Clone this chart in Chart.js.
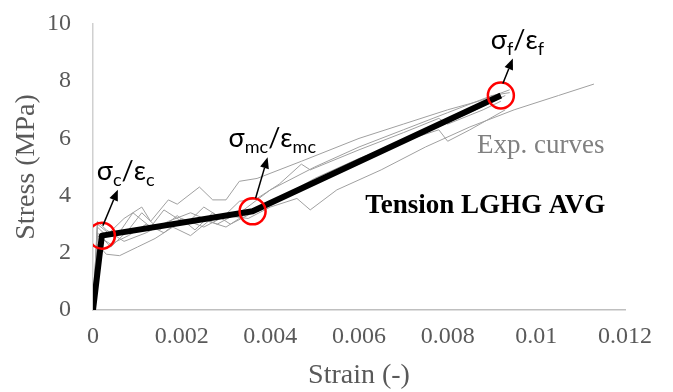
<!DOCTYPE html>
<html>
<head>
<meta charset="utf-8">
<script src="https://cdn.jsdelivr.net/npm/chart.js@4"></script>
<style>
  html, body { margin: 0; padding: 0; background: #fff; }
  #wrap { width: 673px; height: 392px; }
</style>
</head>
<body>
<div id="wrap"><canvas id="stressChart" width="673" height="392"></canvas></div>
<script>
// experimental curves (strain, stress in MPa)
const exp1Strain = [0, 0.0001, 0.0003, 0.0007, 0.0011, 0.0013, 0.0017, 0.0019, 0.0024, 0.0027, 0.0030, 0.0033, 0.0037, 0.0047, 0.0060, 0.0070, 0.0080, 0.0087, 0.0094];
const exp1Stress = [0, 2.9, 2.6, 3.2, 3.6, 3.1, 3.85, 3.7, 4.3, 3.85, 3.85, 4.5, 4.6, 5.2, 6.0, 6.5, 7.0, 7.3, 7.7];
const exp2Strain = [0, 0.0001, 0.0003, 0.0006, 0.0010, 0.0014, 0.0018, 0.0022, 0.0026, 0.0030, 0.0034, 0.0038, 0.0045, 0.0055, 0.0065, 0.0075, 0.0085, 0.0093];
const exp2Stress = [0, 2.3, 1.95, 1.9, 2.2, 2.5, 2.9, 2.6, 3.1, 2.9, 3.3, 3.5, 4.1, 4.8, 5.5, 6.2, 6.9, 7.5];
const exp3Strain = [0, 0.0001, 0.0004, 0.0008, 0.0012, 0.0016, 0.0020, 0.0025, 0.0030, 0.0035, 0.0040, 0.0046, 0.0049, 0.0055, 0.0065, 0.0075, 0.0085, 0.0095, 0.0105, 0.0113];
const exp3Stress = [0, 2.6, 2.3, 2.6, 3.0, 2.7, 3.2, 2.9, 3.3, 3.2, 3.6, 3.9, 3.5, 4.2, 4.9, 5.7, 6.4, 7.0, 7.5, 7.9];
const exp4Strain = [0, 0.0001, 0.0005, 0.0009, 0.0013, 0.0016, 0.0021, 0.0025, 0.0029, 0.0033, 0.0037, 0.0042, 0.0047, 0.0049, 0.0060, 0.0070, 0.0078, 0.0080, 0.0088, 0.0092];
const exp4Stress = [0, 3.0, 2.5, 3.4, 2.9, 3.5, 3.0, 3.6, 3.2, 3.8, 3.9, 4.4, 5.1, 4.9, 5.6, 6.2, 6.7, 6.5, 7.0, 7.3];
const exp5Strain = [0, 0.0001, 0.0004, 0.0008, 0.0011, 0.0015, 0.0019, 0.0023, 0.0027, 0.0031, 0.0036, 0.0042, 0.0050, 0.0060, 0.0070, 0.0078, 0.0080, 0.0085, 0.0093];
const exp5Stress = [0, 2.7, 2.2, 2.8, 3.4, 2.8, 3.3, 2.8, 3.4, 3.0, 3.4, 3.9, 4.6, 5.3, 5.9, 6.3, 5.9, 6.3, 7.0];
const exp6Strain = [0, 0.0001, 0.0003, 0.0007, 0.0012, 0.0017, 0.0022, 0.0028, 0.0034, 0.0040, 0.0050, 0.0060, 0.0070, 0.0080, 0.0090, 0.0094];
const exp6Stress = [0, 3.1, 2.8, 2.4, 2.7, 3.1, 3.4, 3.0, 3.5, 4.2, 5.0, 5.7, 6.3, 6.9, 7.5, 7.6];

// trilinear average
const avgStrain = [0, 0.0002, 0.0036, 0.0092];
const avgStress = [0, 2.6, 3.45, 7.5];

// marked points on the average curve (index into avg arrays) and their subscripts
const keyIndex = [1, 2, 3];
const keySub = ['c', 'mc', 'f'];

const strainTicks = ['0', '0.002', '0.004', '0.006', '0.008', '0.01', '0.012'];
const stressTicks = ['0', '2', '4', '6', '8', '10'];

const pts = (xs, ys) => xs.map((x, i) => ({ x: x, y: ys[i] }));

const expCurves = [
    [exp1Strain, exp1Stress], [exp2Strain, exp2Stress], [exp3Strain, exp3Stress],
    [exp4Strain, exp4Stress], [exp5Strain, exp5Stress], [exp6Strain, exp6Stress]
];

const datasets = [];
// red circles on top
datasets.push({
    data: keyIndex.map(i => ({ x: avgStrain[i], y: avgStress[i] })),
    showLine: false,
    pointRadius: 13,
    pointBorderWidth: 2.5,
    pointBorderColor: '#ff0000',
    pointBackgroundColor: 'rgba(0,0,0,0)'
});
datasets.push({
    data: pts(avgStrain, avgStress),
    showLine: true,
    borderColor: '#000',
    borderWidth: 6,
    pointRadius: 0,
    borderJoinStyle: 'round'
});
expCurves.forEach(c => {
    datasets.push({
        data: pts(c[0], c[1]),
        showLine: true,
        borderColor: '#a0a0a0',
        borderWidth: 1,
        pointRadius: 0
    });
});

// arrows + labels next to the marked points (pixel offsets from the point)
const keyLabels = {
    id: 'keyLabels',
    afterDatasetsDraw(chart) {
        const { ctx, scales: { x, y } } = chart;
        const arrows = [
            { a: [1, -10], b: [16, -46], t: [-5, -56] },
            { a: [3, -13], b: [15, -54], t: [-24, -64] },
            { a: [2, -12], b: [12, -37], t: [-10, -47] }
        ];
        ctx.save();
        keyIndex.forEach((idx, k) => {
            const px = x.getPixelForValue(avgStrain[idx]);
            const py = y.getPixelForValue(avgStress[idx]);
            const o = arrows[k];
            const x0 = px + o.a[0], y0 = py + o.a[1];
            const x1 = px + o.b[0], y1 = py + o.b[1];
            const ang = Math.atan2(y1 - y0, x1 - x0);
            const hl = 11, hw = 4.5;
            const bx = x1 - hl * Math.cos(ang), by = y1 - hl * Math.sin(ang);
            ctx.strokeStyle = '#000';
            ctx.fillStyle = '#000';
            ctx.lineWidth = 1.5;
            ctx.beginPath();
            ctx.moveTo(x0, y0);
            ctx.lineTo(bx, by);
            ctx.stroke();
            ctx.beginPath();
            ctx.moveTo(x1, y1);
            ctx.lineTo(bx + hw * Math.sin(ang), by - hw * Math.cos(ang));
            ctx.lineTo(bx - hw * Math.sin(ang), by + hw * Math.cos(ang));
            ctx.closePath();
            ctx.fill();

            // σ_sub / ε_sub
            let tx = px + o.t[0];
            const ty = py + o.t[1];
            ctx.textBaseline = 'alphabetic';
            ctx.textAlign = 'left';
            const big = '27px Lato, "Noto Sans", sans-serif';
            const small = '18px Lato, "Noto Sans", sans-serif';
            const parts = [['σ', big, 0], [keySub[k], small, 6], ['/', big, 0], ['ε', big, 0], [keySub[k], small, 6]];
            parts.forEach(p => {
                ctx.font = p[1];
                ctx.fillText(p[0], tx, ty + p[2]);
                tx += ctx.measureText(p[0]).width;
            });
        });

        ctx.font = '27px "Liberation Serif", "Times New Roman", serif';
        ctx.fillStyle = '#808080';
        ctx.fillText('Exp. curves', x.getPixelForValue(0.00866), y.getPixelForValue(5.49));
        ctx.font = 'bold 27px "Liberation Serif", "Times New Roman", serif';
        ctx.fillStyle = '#000';
        ctx.fillText('Tension LGHG AVG', x.getPixelForValue(0.00614), y.getPixelForValue(3.39));
        ctx.restore();
    }
};

const serif = '"Liberation Serif", "Times New Roman", serif';

new Chart(document.getElementById('stressChart'), {
    type: 'scatter',
    data: { datasets: datasets },
    options: {
        responsive: false,
        animation: false,
        events: [],
        layout: { padding: { top: 24, right: 48, left: 0, bottom: 0 } },
        plugins: {
            legend: { display: false },
            tooltip: { enabled: false }
        },
        scales: {
            x: {
                type: 'linear',
                min: 0,
                max: 0.012,
                grid: { display: false, drawTicks: false },
                border: { display: true, color: '#bfbfbf', width: 1.5 },
                ticks: {
                    stepSize: 0.002,
                    padding: 12,
                    color: '#595959',
                    font: { family: serif, size: 24 },
                    callback: (v, i) => strainTicks[i]
                },
                title: {
                    display: true,
                    text: 'Strain (-)',
                    color: '#595959',
                    font: { family: serif, size: 28 },
                    padding: { top: 0, bottom: 0 }
                },
                afterFit: s => { s.height = 82; s.paddingLeft = 0; s.paddingRight = 0; }
            },
            y: {
                min: 0,
                max: 10,
                grid: { display: false, drawTicks: false },
                border: { display: true, color: '#d0d0d0', width: 1.5 },
                ticks: {
                    stepSize: 2,
                    padding: 22,
                    color: '#595959',
                    font: { family: serif, size: 24 },
                    callback: (v, i) => stressTicks[i]
                },
                title: {
                    display: true,
                    text: 'Stress (MPa)',
                    color: '#595959',
                    font: { family: serif, size: 28 },
                    padding: { top: 10, bottom: 0 }
                },
                afterFit: s => { s.width = 93; s.paddingTop = 0; s.paddingBottom = 0; }
            }
        }
    },
    plugins: [keyLabels]
});
</script>
</body>
</html>
